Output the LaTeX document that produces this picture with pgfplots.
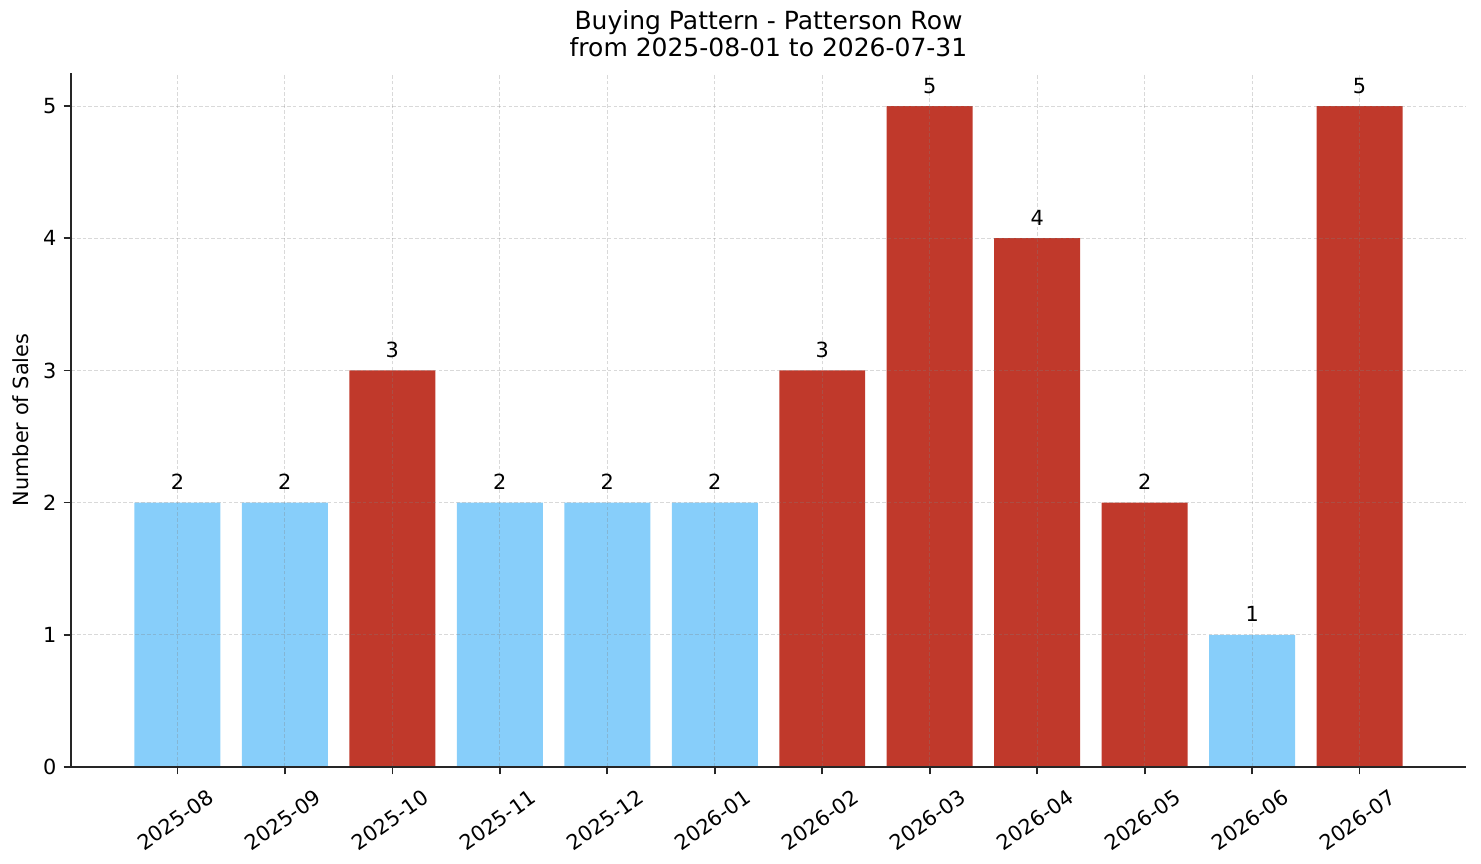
\documentclass[border=0pt]{standalone}
\usepackage{pgfplots}
\pgfplotsset{compat=1.18}
\usepackage{fontspec}
\setmainfont{DejaVu Sans}
\definecolor{lblue}{HTML}{87CEFA}
\definecolor{dred}{HTML}{C0392B}
\definecolor{axc}{HTML}{262626}
\begin{document}
\begin{tikzpicture}
\useasboundingbox (-34.08pt,-46.08pt) rectangle (676.8pt,368.16pt);
\begin{axis}[
  scale only axis,
  width=669.6pt, height=333.12pt,
  xmin=-0.99, xmax=11.99,
  ymin=0, ymax=5.25,
  axis lines*=left,
  axis line style={axc, line width=0.8pt},
  xtick={0,...,11},
  xticklabels={2025-08,2025-09,2025-10,2025-11,2025-12,2026-01,2026-02,2026-03,2026-04,2026-05,2026-06,2026-07},
  ytick={0,1,2,3,4,5},
  tick align=outside,
  major tick length=3.5pt,
  tick style={axc, line width=0.8pt},
  xticklabel style={yshift=-22pt, xshift=-1pt, rotate=35, anchor=center, font=\fontsize{10pt}{12pt}\selectfont},
  yticklabel style={font=\fontsize{10pt}{12pt}\selectfont},
  /pgf/number format/assume math mode=true,
  grid=major,
  major grid style={dash pattern=on 1.8pt off 1pt, gray, opacity=0.3, line width=0.4pt},
  axis on top,
  ylabel={Number of Sales},
  ylabel style={font=\fontsize{10pt}{12pt}\selectfont},
  title={Buying Pattern - Patterson Row\\from 2025-08-01 to 2026-07-31},
  title style={align=center, font=\fontsize{12pt}{13.4pt}\selectfont, yshift=-2pt},
  ybar, bar width=0.8, bar shift=0pt,
  nodes near coords,
  nodes near coords style={anchor=base, yshift=6.2pt, font=\fontsize{10pt}{12pt}\selectfont, text=black},
  every axis plot/.append style={draw=none},
]
\addplot[fill=lblue] coordinates {(0,2) (1,2) (3,2) (4,2) (5,2) (10,1)};
\addplot[fill=dred] coordinates {(2,3) (6,3) (7,5) (8,4) (9,2) (11,5)};
\end{axis}
\end{tikzpicture}
\end{document}
